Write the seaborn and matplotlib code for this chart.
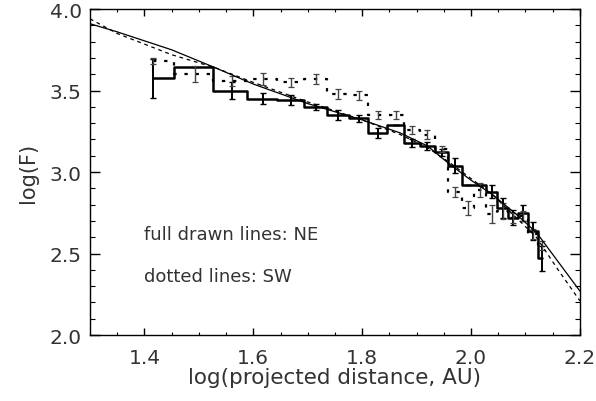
import numpy as np
import pandas as pd
import matplotlib
matplotlib.use("Agg")
import matplotlib.pyplot as plt
import seaborn as sns
from matplotlib.ticker import MultipleLocator, FormatStrFormatter

# log of projected distance for each radial bin (same bins for NE and SW)
log_r = [1.415, 1.493, 1.560, 1.618, 1.670, 1.716, 1.756, 1.794, 1.829, 1.862, 1.891,
         1.920, 1.946, 1.971, 1.994, 2.017, 2.038, 2.058, 2.077, 2.096, 2.114, 2.131]

# NE profile (full drawn histogram) and its errors
ne_flux = [3.575, 3.647, 3.50, 3.45, 3.44, 3.40, 3.35, 3.33, 3.24, 3.29, 3.18,
           3.16, 3.12, 3.04, 2.92, 2.92, 2.88, 2.78, 2.72, 2.75, 2.64, 2.47]
ne_err = [0.12, 0.00, 0.05, 0.035, 0.03, 0.02, 0.03, 0.02, 0.03, 0.00, 0.025,
          0.025, 0.02, 0.045, 0.00, 0.00, 0.04, 0.06, 0.045, 0.05, 0.055, 0.075]

# SW profile (dotted histogram) and its errors
sw_flux = [3.68, 3.60, 3.56, 3.57, 3.55, 3.57, 3.48, 3.47, 3.35, 3.35, 3.26,
           3.23, 3.14, 2.88, 2.78, 2.89, 2.74, 2.76, 2.72, 2.73, 2.62, 2.55]
sw_err = [0.02, 0.05, 0.03, 0.035, 0.03, 0.03, 0.03, 0.025, 0.025, 0.025, 0.025,
          0.025, 0.02, 0.03, 0.045, 0.045, 0.055, 0.05, 0.03, 0.03, 0.03, 0.03]

# model curves
mod_ne_x = [1.30, 1.35, 1.45, 1.53, 1.60, 1.70, 1.80, 1.87, 1.92, 1.96, 2.00,
            2.04, 2.08, 2.12, 2.16, 2.20]
mod_ne_y = [3.91, 3.86, 3.75, 3.64, 3.54, 3.42, 3.32, 3.24, 3.16, 3.05, 2.95,
            2.86, 2.75, 2.63, 2.45, 2.27]
mod_sw_x = [1.30, 1.35, 1.45, 1.53, 1.60, 1.70, 1.80, 1.87, 1.92, 1.96, 2.00,
            2.04, 2.08, 2.12, 2.16, 2.20]
mod_sw_y = [3.94, 3.85, 3.72, 3.64, 3.55, 3.43, 3.32, 3.23, 3.15, 3.06, 2.96,
            2.86, 2.73, 2.60, 2.40, 2.21]

sns.set_theme(style="ticks")
plt.rcParams['font.family'] = ['DejaVu Sans']
txt_col = '#333333'

fig = plt.figure(figsize=(5.96, 4.02), dpi=100)
ax = fig.add_axes([0.151, 0.164, 0.822, 0.811])

prof = pd.DataFrame({'r': log_r, 'ne': ne_flux, 'sw': sw_flux})

# histograms
sns.lineplot(data=prof, x='r', y='ne', ax=ax, color='black', lw=1.8,
             drawstyle='steps-mid', estimator=None, sort=False)
sns.lineplot(data=prof, x='r', y='sw', ax=ax, color='black', lw=1.6,
             drawstyle='steps-mid', estimator=None, sort=False,
             dashes=False, linestyle=(0, (1.5, 3.5)))

# error bars
ax.errorbar(log_r, ne_flux, yerr=ne_err, fmt='none', ecolor='black',
            elinewidth=1.4, capsize=2.5, capthick=1.0)
ax.errorbar(log_r, sw_flux, yerr=sw_err, fmt='none', ecolor='#444444',
            elinewidth=1.0, capsize=2.5, capthick=0.9)

# models
sns.lineplot(x=mod_ne_x, y=mod_ne_y, ax=ax, color='black', lw=0.9,
             estimator=None, sort=False)
sns.lineplot(x=mod_sw_x, y=mod_sw_y, ax=ax, color='black', lw=0.9,
             estimator=None, sort=False, linestyle=(0, (3, 3)))

ax.set_xlim(1.3, 2.2)
ax.set_ylim(2.0, 4.0)
ax.xaxis.set_major_locator(MultipleLocator(0.2))
ax.xaxis.set_minor_locator(MultipleLocator(0.05))
ax.yaxis.set_major_locator(MultipleLocator(0.5))
ax.yaxis.set_minor_locator(MultipleLocator(0.1))
ax.xaxis.set_major_formatter(FormatStrFormatter('%.1f'))
ax.yaxis.set_major_formatter(FormatStrFormatter('%.1f'))

for s in ax.spines.values():
    s.set_visible(True)
    s.set_linewidth(1.0)
    s.set_color('black')

ax.tick_params(axis='both', which='both', direction='in', top=True, right=True,
               colors='black', labelcolor=txt_col, labelsize=14.5)
ax.tick_params(axis='x', which='major', length=4.7, width=1.0, pad=9)
ax.tick_params(axis='x', which='minor', length=2.4, width=0.8)
ax.tick_params(axis='y', which='major', length=7, width=1.0, pad=6)
ax.tick_params(axis='y', which='minor', length=3.5, width=0.8)

ax.set_xlabel('log(projected distance, AU)', fontsize=15.5, labelpad=0,
              color=txt_col)
ax.set_ylabel('log(F)', fontsize=15, labelpad=8, color=txt_col)

ax.text(1.40, 2.62, 'full drawn lines: NE', fontsize=13, va='center',
        color=txt_col)
ax.text(1.40, 2.36, 'dotted lines: SW', fontsize=13, va='center',
        color=txt_col)

fig.savefig('out.png', dpi=100)
